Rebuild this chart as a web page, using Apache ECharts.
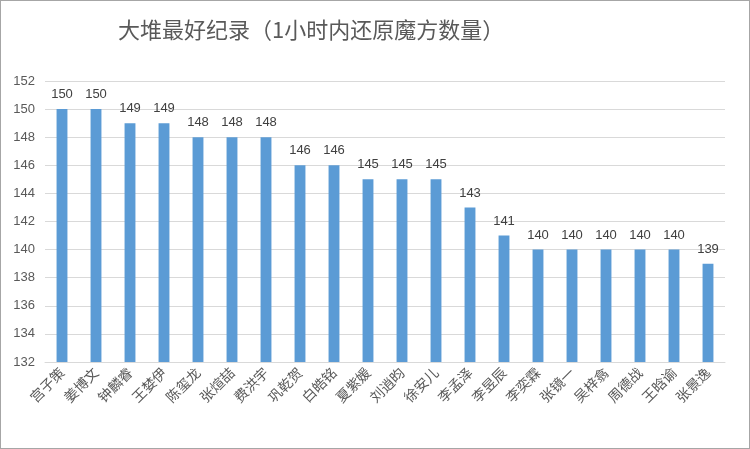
<!DOCTYPE html>
<html lang="zh">
<head>
    <meta charset="UTF-8">
    <title>大堆最好纪录</title>
    <style>
        html, body { margin: 0; padding: 0; background: #fff; }
        #main { width: 748px; height: 447px; border: 1px solid #a6a6a6; }
    </style>
</head>
<body>
<div id="main"></div>
<script src="https://cdn.jsdelivr.net/npm/echarts@6/dist/echarts.min.js"></script>
<script type="text/javascript">
    // 姓名（X轴）
    var names = ['宫子策', '姜博文', '钟麟睿', '王婪伊', '陈玺龙', '张煊喆', '费洪宇', '巩乾贺', '白皓铭', '夏紫媛',
                 '刘逍昀', '徐安儿', '李孟泽', '李昱辰', '李奕霖', '张镜一', '吴梓翕', '周德战', '王晗谕', '张景逸'];
    // 1小时内还原魔方数量
    var counts = [150, 150, 149, 149, 148, 148, 148, 146, 146, 145,
                  145, 145, 143, 141, 140, 140, 140, 140, 140, 139];
    var yMin = 132, yMax = 152, yStep = 2;

    var myChart = echarts.init(document.getElementById('main'));
    myChart.setOption({
        animation: false,
        title: {
            text: '大堆最好纪录（1小时内还原魔方数量）',
            left: 112,
            top: 13,
            textStyle: { fontSize: 22, fontWeight: 'normal', color: '#595959', fontFamily: 'Noto Sans CJK SC' }
        },
        grid: { left: 44, right: 24, top: 80, bottom: 86 },
        xAxis: {
            type: 'category',
            data: names,
            axisLine: { lineStyle: { color: '#d9d9d9' } },
            axisTick: { show: false },
            axisLabel: {
                rotate: 45,
                interval: 0,
                margin: 8,
                color: '#595959',
                fontSize: 14,
                fontFamily: 'Noto Sans CJK SC'
            }
        },
        yAxis: {
            type: 'value',
            min: yMin,
            max: yMax,
            interval: yStep,
            axisLine: { show: false },
            axisTick: { show: false },
            splitLine: { lineStyle: { color: '#d9d9d9' } },
            axisLabel: { color: '#595959', fontSize: 13, margin: 10, fontFamily: 'Liberation Sans' }
        },
        series: [{
            type: 'bar',
            data: counts,
            barWidth: '32%',
            itemStyle: { color: '#5b9bd5' },
            label: {
                show: true,
                position: 'top',
                distance: 8,
                color: '#404040',
                fontSize: 13,
                fontFamily: 'Liberation Sans'
            }
        }]
    });
</script>
</body>
</html>
